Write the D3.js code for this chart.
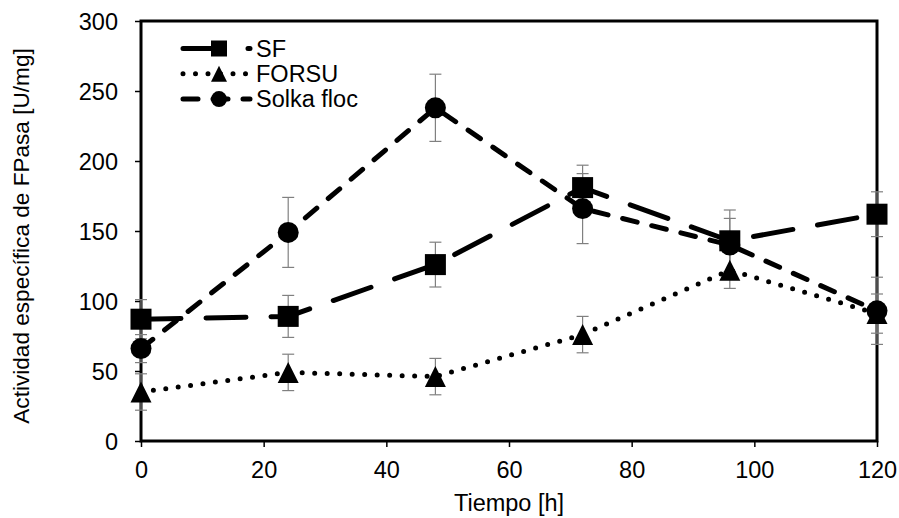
<!DOCTYPE html>
<html><head><meta charset="utf-8">
<script src="https://cdn.jsdelivr.net/npm/d3@7"></script>
<style>
html,body{margin:0;padding:0;background:#fff;}
svg{display:block;font-family:"Liberation Sans",Arial,sans-serif;}
</style></head>
<body>
<svg id="chart" width="899" height="518"></svg>
<script>
const hours = [0, 24, 48, 72, 96, 120];
const sfValues = [87, 89, 126, 181, 143, 162];
const sfErrors = [14, 15, 16, 16, 22, 16];
const forsuValues = [35, 49, 46, 76, 122, 91];
const forsuErrors = [13, 13, 13, 13, 13, 14];
const solkaValues = [66, 149, 238, 166, 140, 93];
const solkaErrors = [10, 25, 24, 25, 19, 24];
const xTicks = [0, 20, 40, 60, 80, 100, 120];
const yTicks = [0, 50, 100, 150, 200, 250, 300];
const seriesNames = ["SF", "FORSU", "Solka floc"];
const xTitle = "Tiempo [h]";
const yTitle = "Actividad específica de FPasa [U/mg]";

(function () {
const svg = d3.select("#chart");
const pL = 141, pR = 877, pT = 21, pB = 441;
const x = d3.scaleLinear().domain([0, 120]).range([pL, pR]);
const y = d3.scaleLinear().domain([0, 300]).range([pB, pT]);
const FS = 23.5;

const series = [
  {name: seriesNames[0], vals: sfValues, errs: sfErrors, dash: "40,25", width: 5, marker: "square"},
  {name: seriesNames[1], vals: forsuValues, errs: forsuErrors, dash: "0,12.5", width: 5, marker: "triangle"},
  {name: seriesNames[2], vals: solkaValues, errs: solkaErrors, dash: "15,15", width: 5, marker: "circle"}
];

// axes
const xAxis = svg.append("g").attr("transform", `translate(0,${pB})`)
  .call(d3.axisBottom(x).tickValues(xTicks).tickSize(6).tickSizeOuter(0));
xAxis.select(".domain").remove();
xAxis.selectAll("line").attr("stroke", "#000").attr("stroke-width", 1.5);
xAxis.selectAll("text").attr("y", 37).attr("dy", null)
  .attr("font-size", FS).attr("font-family", "Liberation Sans, Arial, sans-serif").attr("fill", "#000");

const yAxis = svg.append("g").attr("transform", `translate(${pL},0)`)
  .call(d3.axisLeft(y).tickValues(yTicks).tickSize(6).tickSizeOuter(0));
yAxis.select(".domain").remove();
yAxis.selectAll("line").attr("stroke", "#000").attr("stroke-width", 1.5);
yAxis.selectAll("text").attr("x", -23).attr("dy", "0.36em")
  .attr("font-size", FS).attr("font-family", "Liberation Sans, Arial, sans-serif").attr("fill", "#000");

// frame
svg.append("rect").attr("x", pL).attr("y", pT).attr("width", pR - pL).attr("height", pB - pT)
  .attr("fill", "none").attr("stroke", "#000").attr("stroke-width", 3);

// error bars
const eb = svg.append("g").attr("stroke", "#808080").attr("stroke-width", 1.2);
series.forEach(s => {
  hours.forEach((h, i) => {
    const cx = x(h), y1 = y(s.vals[i] + s.errs[i]), y2 = y(s.vals[i] - s.errs[i]);
    eb.append("line").attr("x1", cx).attr("x2", cx).attr("y1", y1).attr("y2", y2);
    eb.append("line").attr("x1", cx - 6).attr("x2", cx + 6).attr("y1", y1).attr("y2", y1);
    eb.append("line").attr("x1", cx - 6).attr("x2", cx + 6).attr("y1", y2).attr("y2", y2);
  });
});

function drawMarker(g, type, cx, cy, size) {
  if (type === "square") {
    g.append("rect").attr("x", cx - size / 2).attr("y", cy - size / 2).attr("width", size).attr("height", size).attr("fill", "#000");
  } else if (type === "circle") {
    g.append("circle").attr("cx", cx).attr("cy", cy).attr("r", size / 2).attr("fill", "#000");
  } else {
    const h = size;
    g.append("path").attr("d", `M${cx},${cy - h / 2}L${cx + size / 2},${cy + h / 2}L${cx - size / 2},${cy + h / 2}Z`).attr("fill", "#000");
  }
}

const line = d3.line().x((d, i) => x(hours[i])).y(d => y(d));
series.forEach(s => {
  svg.append("path").datum(s.vals).attr("d", line).attr("fill", "none")
    .attr("stroke", "#000").attr("stroke-width", s.width).attr("stroke-dasharray", s.dash)
    .attr("stroke-linecap", "round");
});
series.forEach(s => {
  const g = svg.append("g");
  hours.forEach((h, i) => drawMarker(g, s.marker, x(h), y(s.vals[i]), 21));
});

// legend
const lg = svg.append("g");
series.forEach((s, i) => {
  const ly = 48.5 + i * 25.3;
  lg.append("line").attr("x1", 183).attr("x2", 250).attr("y1", ly).attr("y2", ly)
    .attr("stroke", "#000").attr("stroke-width", s.width).attr("stroke-dasharray", s.dash).attr("stroke-linecap", "round");
  drawMarker(lg, s.marker, 219, ly, 16);
  lg.append("text").attr("x", 256).attr("y", ly + 8).attr("font-size", FS).attr("fill", "#000").text(s.name);
});

// titles
svg.append("text").attr("x", 509).attr("y", 511).attr("text-anchor", "middle")
  .attr("font-size", FS).attr("fill", "#000").text(xTitle);
svg.append("text").attr("transform", "translate(29,236) rotate(-90)").attr("text-anchor", "middle")
  .attr("font-size", 22.6).attr("fill", "#000").text(yTitle);
})();
</script>
</body></html>
